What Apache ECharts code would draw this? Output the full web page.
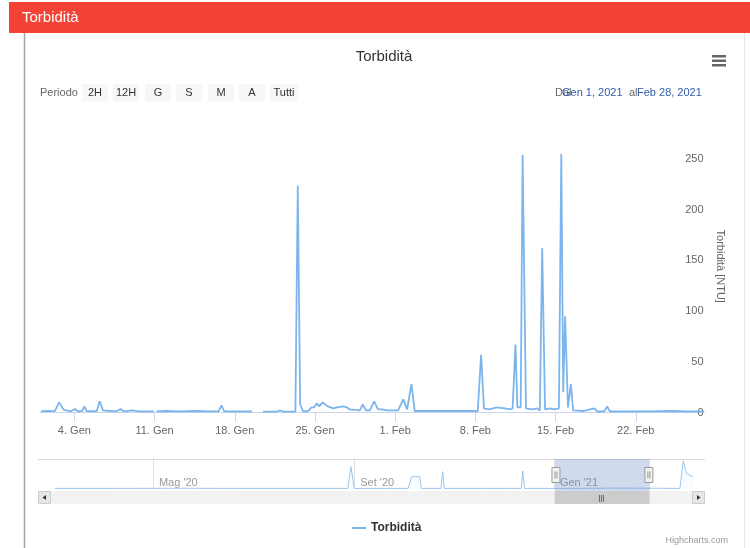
<!DOCTYPE html>
<html>
<head>
<meta charset="utf-8">
<title>Torbidità</title>
<script src="https://cdn.jsdelivr.net/npm/echarts@6/dist/echarts.min.js"></script>
<style>
  html, body { margin: 0; padding: 0; background: #fff; }
  #chart { width: 750px; height: 548px; }
</style>
</head>
<body>
<div id="chart"></div>
<script>
const mesi = ['Gen', 'Feb', 'Mar', 'Apr', 'Mag', 'Giu', 'Lug', 'Ago', 'Set', 'Ott', 'Nov', 'Dic']

// torbidità gen-feb 2021 (NTU), null = buco nei dati
const torbTimes = [
  '2021-01-01 02:00', '2021-01-01 14:00', '2021-01-02 07:00', '2021-01-02 16:00', '2021-01-03 02:00',
  '2021-01-03 17:00', '2021-01-04 01:00', '2021-01-04 07:00', '2021-01-04 16:00', '2021-01-04 21:00',
  '2021-01-05 02:00', '2021-01-05 23:00', '2021-01-06 05:00', '2021-01-06 12:00', '2021-01-07 04:00',
  '2021-01-07 16:00', '2021-01-08 01:00', '2021-01-08 07:00', '2021-01-09 02:00', '2021-01-09 14:00',
  '2021-01-10 22:00', '2021-01-11 01:00', '2021-01-11 04:00', '2021-01-12 00:00', '2021-01-13 06:00',
  '2021-01-14 12:00', '2021-01-15 18:00', '2021-01-16 14:00', '2021-01-16 20:00', '2021-01-17 02:00',
  '2021-01-18 12:00', '2021-01-19 12:00', '2021-01-20 00:00', '2021-01-20 11:00', '2021-01-21 16:00',
  '2021-01-21 23:00', '2021-01-22 06:00', '2021-01-23 07:00', '2021-01-23 12:00', '2021-01-23 17:00',
  '2021-01-23 23:00', '2021-01-24 10:00', '2021-01-24 17:00', '2021-01-24 22:00', '2021-01-25 04:00',
  '2021-01-25 09:00', '2021-01-25 16:00', '2021-01-26 03:00', '2021-01-26 14:00', '2021-01-26 22:00',
  '2021-01-27 11:00', '2021-01-27 19:00', '2021-01-28 01:00', '2021-01-28 22:00', '2021-01-29 04:00',
  '2021-01-29 11:00', '2021-01-29 19:00', '2021-01-30 04:00', '2021-01-30 12:00', '2021-01-30 22:00',
  '2021-01-31 05:00', '2021-02-01 06:00', '2021-02-01 17:00', '2021-02-02 01:00', '2021-02-02 10:00',
  '2021-02-02 17:00', '2021-02-04 12:00', '2021-02-06 04:00', '2021-02-08 05:00', '2021-02-08 12:00',
  '2021-02-08 18:00', '2021-02-09 06:00', '2021-02-09 20:00', '2021-02-10 14:00', '2021-02-11 00:00',
  '2021-02-11 06:00', '2021-02-11 12:00', '2021-02-11 16:00', '2021-02-11 23:00', '2021-02-12 03:00',
  '2021-02-12 10:00', '2021-02-12 22:00', '2021-02-13 10:00', '2021-02-13 15:00', '2021-02-13 20:00',
  '2021-02-14 02:00', '2021-02-14 12:00', '2021-02-14 21:00', '2021-02-15 07:00', '2021-02-15 12:00',
  '2021-02-15 16:00', '2021-02-15 20:00', '2021-02-16 02:00', '2021-02-16 08:00', '2021-02-16 13:00',
  '2021-02-17 12:00', '2021-02-18 09:00', '2021-02-18 16:00', '2021-02-19 06:00', '2021-02-19 12:00',
  '2021-02-19 18:00', '2021-02-21 10:00', '2021-02-22 22:00', '2021-02-25 06:00', '2021-02-26 12:00',
  '2021-02-27 23:00'
]
const torbValues = [
  1.2, 1.5, 1.3, 10, 2.5,
  1.2, 3.5, 1.2, 1.5, 6,
  1.2, 1.5, 11, 2, 1.5,
  1.2, 3.5, 1.2, 2, 1.2,
  1, null, 1, 1.5, 1.2,
  1.5, 1.2, 1.2, 7, 1.2,
  1, 1, null, 0.8, 0.8,
  2, 0.8, 1, 224, 8,
  1, 1.5, 5, 5, 9,
  6, 10, 6, 4, 5,
  6, 5, 3, 2, 8,
  2, 2, 11, 3, 3,
  2, 2, 13, 3, 28,
  1.5, 1.5, 1.5, 1.5, 57,
  4, 3, 5, 4, 3,
  4, 67, 5, 5, 254,
  4, 3, 4, 2, 162,
  3, 4, 3, 4, 255,
  20, 95, 5, 28, 2,
  1.5, 4, 1, 1, 6,
  1, 1, 1.2, 1.5, 1,
  1
]

// navigatore: serie aggregata su tutto il periodo
const navTimes = [
  '2020-03-02', '2020-04-10', '2020-05-20', '2020-06-20', '2020-07-25', '2020-08-28', '2020-08-30',
  '2020-09-01', '2020-09-20', '2020-10-04', '2020-10-06', '2020-10-11', '2020-10-12', '2020-10-24',
  '2020-10-25', '2020-10-26', '2020-11-20', '2020-12-04', '2020-12-05', '2020-12-06', '2020-12-12',
  '2020-12-13', '2020-12-14', '2021-01-10', '2021-02-05', '2021-02-06', '2021-02-07', '2021-02-12',
  '2021-02-13', '2021-02-14', '2021-03-19', '2021-03-21', '2021-03-23', '2021-03-27'
]
const navValues = [
  2, 2, 2.5, 2, 2, 2, 74,
  2, 2, 2, 41, 41, 2, 2,
  58, 2, 2, 2, 7, 2, 2,
  60, 2, 2, 3, 5, 3, 3,
  7, 3, 2, 93, 53, 40
]

const xTicks = ['2021-01-04', '2021-01-11', '2021-01-18', '2021-01-25', '2021-02-01', '2021-02-08', '2021-02-15', '2021-02-22']
const navTicks = ['2020-05-01', '2020-09-01', '2021-01-01']
const yMax = 288.5
const yStep = 50
const periodo = ['2021-01-01', '2021-02-28']
const navRange = ['2020-02-22', '2021-04-03']
const rangeButtons = ['2H', '12H', 'G', 'S', 'M', 'A', 'Tutti']

const ts = s => echarts.time.parse(s).getTime()
const dayLabel = v => { const d = new Date(v); return d.getDate() + '. ' + mesi[d.getMonth()] }
const monthLabel = v => { const d = new Date(v); return mesi[d.getMonth()] + " '" + String(d.getFullYear()).slice(2) }
const inputLabel = s => { const d = echarts.time.parse(s); return mesi[d.getMonth()] + ' ' + d.getDate() + ', ' + d.getFullYear() }

const FONT = '"Liberation Sans", Arial, sans-serif'
const LINE = '#7cb5ec'

// decorazioni: testata, bottoni periodo, scrollbar
const btnX = [82, 113, 145, 176, 208, 239, 270]
const btnW = [26, 26, 26, 26, 26, 26, 28]
const graphic = [
  { type: 'rect', shape: { x: 9, y: 2, width: 741, height: 31 }, style: { fill: '#f44336' } },
  { type: 'text', x: 22, y: 18, style: { text: 'Torbidità', fill: '#fff', fontSize: 15, fontFamily: FONT, verticalAlign: 'middle' } },
  { type: 'line', shape: { x1: 24.5, y1: 33, x2: 24.5, y2: 548 }, style: { stroke: '#a3a3a3', lineWidth: 1.5 } },
  { type: 'line', shape: { x1: 744.5, y1: 33, x2: 744.5, y2: 548 }, style: { stroke: '#e6e6e6', lineWidth: 1 } },
  { type: 'rect', shape: { x: 712, y: 55, width: 14, height: 2.5 }, style: { fill: '#666' } },
  { type: 'rect', shape: { x: 712, y: 59.5, width: 14, height: 2.5 }, style: { fill: '#666' } },
  { type: 'rect', shape: { x: 712, y: 64, width: 14, height: 2.5 }, style: { fill: '#666' } },
  { type: 'text', x: 40, y: 93, style: { text: 'Periodo', fill: '#666', fontSize: 11, fontFamily: FONT, verticalAlign: 'middle' } },
  { type: 'text', x: 555, y: 93, style: { text: 'Dal', fill: '#666', fontSize: 11, fontFamily: FONT, verticalAlign: 'middle' } },
  { type: 'text', x: 562, y: 93, style: { text: inputLabel(periodo[0]), fill: '#335cad', fontSize: 11, fontFamily: FONT, verticalAlign: 'middle' } },
  { type: 'text', x: 629, y: 93, style: { text: 'al', fill: '#666', fontSize: 11, fontFamily: FONT, verticalAlign: 'middle' } },
  { type: 'text', x: 637, y: 93, style: { text: inputLabel(periodo[1]), fill: '#335cad', fontSize: 11, fontFamily: FONT, verticalAlign: 'middle' } },
  { type: 'line', shape: { x1: 38, y1: 459.5, x2: 705, y2: 459.5 }, style: { stroke: '#d9d9d9', lineWidth: 1 } },
  { type: 'rect', z: 1, shape: { x: 38, y: 491, width: 667, height: 13 }, style: { fill: '#f2f2f2' } },
  { type: 'rect', z: 2, shape: { x: 38.5, y: 491.5, width: 12, height: 12 }, style: { fill: '#e6e6e6', stroke: '#cccccc' } },
  { type: 'polygon', z: 3, shape: { points: [[42.5, 497.5], [46, 495], [46, 500]] }, style: { fill: '#333' } },
  { type: 'rect', z: 2, shape: { x: 692.5, y: 491.5, width: 12, height: 12 }, style: { fill: '#e6e6e6', stroke: '#cccccc' } },
  { type: 'polygon', z: 3, shape: { points: [[700.5, 497.5], [697, 495], [697, 500]] }, style: { fill: '#333' } },
  { type: 'text', x: 728, y: 541, style: { text: 'Highcharts.com', fill: '#999', fontSize: 9, fontFamily: FONT, align: 'right', verticalAlign: 'middle' } }
]
rangeButtons.forEach((b, i) => {
  graphic.push({ type: 'rect', shape: { x: btnX[i], y: 84, width: btnW[i], height: 18 }, style: { fill: '#f7f7f7' } })
  graphic.push({ type: 'text', x: btnX[i] + btnW[i] / 2, y: 93, style: { text: b, fill: '#333', fontSize: 11, fontFamily: FONT, align: 'center', verticalAlign: 'middle' } })
})

const chart = echarts.init(document.getElementById('chart'))
const option = {
  animation: false,
  textStyle: { fontFamily: FONT },
  title: {
    text: 'Torbidità',
    left: 379,
    top: 44,
    textAlign: 'center',
    textStyle: { fontSize: 15, fontWeight: 'normal', color: '#333', fontFamily: FONT }
  },
  legend: {
    data: ['Torbidità'],
    left: 347,
    top: 517,
    icon: 'rect',
    itemWidth: 14,
    itemHeight: 2,
    textStyle: { fontSize: 12, fontWeight: 'bold', color: '#333', fontFamily: FONT }
  },
  graphic: graphic,
  grid: [
    { left: 40, right: 45.5, top: 120, bottom: 135.5, outerBoundsMode: 'none' },
    { left: 40, right: 45.5, top: 459, height: 30, outerBoundsMode: 'none' }
  ],
  xAxis: [
    {
      type: 'value',
      gridIndex: 0,
      min: ts(navRange[0]),
      max: ts(navRange[1]),
      offset: 4.5,
      axisLine: { lineStyle: { color: '#ccd6eb', width: 1 } },
      axisTick: { customValues: xTicks.map(ts), length: 9, lineStyle: { color: '#ccd6eb' } },
      axisLabel: { customValues: xTicks.map(ts), formatter: dayLabel, color: '#666', fontSize: 11, margin: 8 },
      splitLine: { show: false }
    },
    {
      type: 'value',
      gridIndex: 1,
      min: ts(navRange[0]),
      max: ts(navRange[1]),
      axisLine: { show: false },
      axisTick: { inside: true, length: 31, customValues: navTicks.map(ts), lineStyle: { color: '#e0e0e0' } },
      axisLabel: { inside: true, customValues: navTicks.map(ts), formatter: monthLabel, align: 'left', padding: [0, 0, 0, 6], color: '#999', fontSize: 11, margin: 1 },
      splitLine: { show: false }
    }
  ],
  yAxis: [
    {
      type: 'value',
      gridIndex: 0,
      position: 'right',
      min: 0,
      max: yMax,
      interval: yStep,
      name: 'Torbidità [NTU]',
      nameLocation: 'middle',
      nameRotate: -90,
      nameGap: 10,
      nameTextStyle: { color: '#666', fontSize: 11, fontFamily: FONT },
      axisLine: { show: false },
      axisTick: { show: false },
      splitLine: { show: false },
      axisLabel: { inside: true, margin: 1, showMaxLabel: false, color: '#666', fontSize: 11 }
    },
    {
      type: 'value',
      gridIndex: 1,
      min: 0,
      max: 100,
      show: false
    }
  ],
  dataZoom: [
    {
      // navigatore: maschera e maniglie
      type: 'slider',
      xAxisIndex: 0,
      filterMode: 'none',
      startValue: ts(periodo[0]),
      endValue: ts(periodo[1]),
      left: 40,
      right: 45.5,
      top: 459,
      height: 32,
      z: 10,
      brushSelect: false,
      moveHandleSize: 0,
      showDetail: false,
      showDataShadow: false,
      backgroundColor: 'rgba(0,0,0,0)',
      borderColor: 'transparent',
      fillerColor: 'rgba(102,133,194,0.3)',
      dataBackground: { lineStyle: { opacity: 0 }, areaStyle: { opacity: 0 } },
      selectedDataBackground: { lineStyle: { opacity: 0 }, areaStyle: { opacity: 0 } },
      handleIcon: 'path://M0,0H8V15H0Z M3,4V11 M5,4V11',
      handleSize: '47%',
      handleStyle: { color: '#f2f2f2', borderColor: '#999', borderWidth: 1, shadowBlur: 0 }
    },
    {
      // scrollbar
      type: 'slider',
      xAxisIndex: 0,
      filterMode: 'none',
      startValue: ts(periodo[0]),
      endValue: ts(periodo[1]),
      left: 40,
      right: 45.5,
      top: 491,
      height: 13,
      z: 10,
      brushSelect: false,
      moveHandleSize: 0,
      showDetail: false,
      showDataShadow: false,
      backgroundColor: 'rgba(0,0,0,0)',
      borderColor: 'transparent',
      fillerColor: '#cccccc',
      dataBackground: { lineStyle: { opacity: 0 }, areaStyle: { opacity: 0 } },
      selectedDataBackground: { lineStyle: { opacity: 0 }, areaStyle: { opacity: 0 } },
      handleSize: '100%',
      handleStyle: { opacity: 0 }
    }
  ],
  series: [
    {
      name: 'Torbidità',
      type: 'line',
      xAxisIndex: 0,
      yAxisIndex: 0,
      data: torbTimes.map((t, i) => [ts(t), torbValues[i]]),
      showSymbol: false,
      symbol: 'none',
      connectNulls: false,
      color: LINE,
      lineStyle: { color: LINE, width: 1.8 }
    },
    {
      name: 'navigatore',
      type: 'line',
      xAxisIndex: 1,
      yAxisIndex: 1,
      data: navTimes.map((t, i) => [ts(t), navValues[i]]),
      symbol: 'none',
      color: '#9cc5ee',
      lineStyle: { color: '#9cc5ee', width: 1 },
      areaStyle: { color: 'rgba(124,181,236,0.06)' }
    }
  ]
}
chart.setOption(option)

// righe "|||" al centro della barra di scorrimento
const mid = (ts(periodo[0]) + ts(periodo[1])) / 2
const midX = chart.convertToPixel({ xAxisIndex: 1 }, mid)
graphic.push({ type: 'text', z: 20, x: midX, y: 497.5, style: { text: '|||', fill: '#333', fontSize: 8, fontFamily: FONT, align: 'center', verticalAlign: 'middle' } })
chart.setOption({ graphic: graphic })
</script>
</body>
</html>
